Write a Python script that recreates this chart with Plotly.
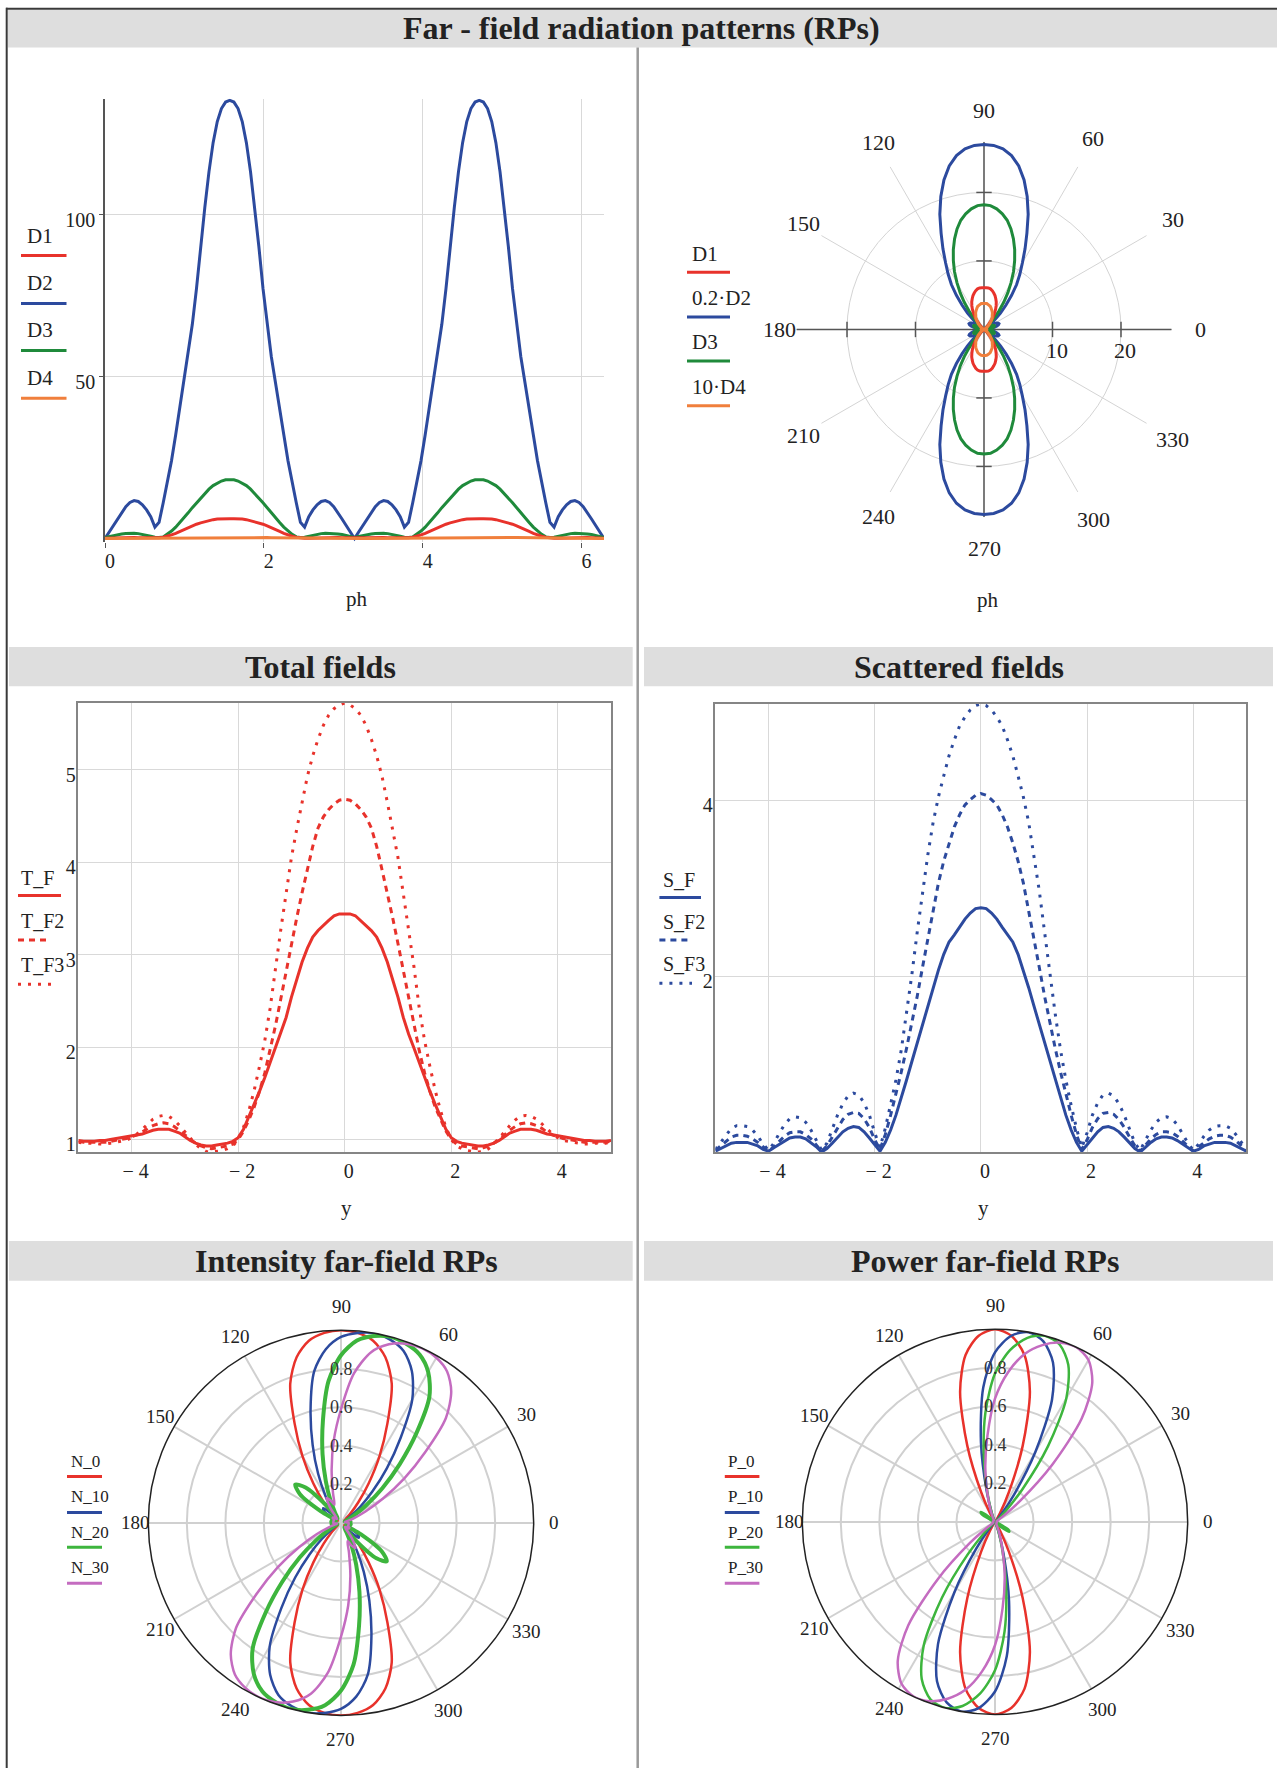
import numpy as np
import plotly.graph_objects as go

W, H = 1277, 1771
FONT = "Liberation Serif"


def fx(px):
    return px / W


def fy(py):
    return 1 - py / H


RED = "#e8322b"
BLUE = "#2c4a9e"
GREEN = "#1f8a3b"
ORANGE = "#f07f3c"
GREEN2 = "#3db53d"
MAGENTA = "#c46cc0"

# ---------------- data: far-field RPs vs ph (degrees, step 3) ----------------
ph_deg = list(range(0, 361, 3))

D1 = [0.1, 0.15, 0.2, 0.25, 0.3, 0.3, 0.3, 0.3, 0.25, 0.2, 0.15, 0.1, 0.1, 0.2, 0.4, 0.7, 1.1, 1.6, 2.2, 2.8, 3.4,
      3.9, 4.4, 4.8, 5.2, 5.5, 5.8, 6.0, 6.1, 6.1, 6.1, 6.1, 6.1, 6.0, 5.8, 5.5, 5.2, 4.8, 4.4, 3.9, 3.4, 2.8, 2.2,
      1.6, 1.1, 0.7, 0.4, 0.2, 0.1, 0.1, 0.15, 0.2, 0.25, 0.3, 0.3, 0.3, 0.3, 0.25, 0.2, 0.15, 0.1,
      0.15, 0.2, 0.25, 0.3, 0.3, 0.3, 0.3, 0.25, 0.2, 0.15, 0.1, 0.1, 0.2, 0.4, 0.7, 1.1, 1.6, 2.2, 2.8, 3.4,
      3.9, 4.4, 4.8, 5.2, 5.5, 5.8, 6.0, 6.1, 6.1, 6.1, 6.1, 6.1, 6.0, 5.8, 5.5, 5.2, 4.8, 4.4, 3.9, 3.4, 2.8, 2.2,
      1.6, 1.1, 0.7, 0.4, 0.2, 0.1, 0.1, 0.15, 0.2, 0.25, 0.3, 0.3, 0.3, 0.3, 0.25, 0.2, 0.15, 0.1]

D2 = [0, 2.0, 4.0, 6.0, 8.0, 9.8, 11.1, 11.7, 11.4, 10.4, 8.8, 6.7, 3.5, 5.0, 11.0, 17.0, 24.0, 32.0, 40.5, 48.0,
      56.0, 66.0, 77.0, 90.0, 102.0, 113.0, 122.0, 128.5, 132.5, 134.5, 135.0, 134.5, 132.5, 128.5, 122.0, 113.0,
      102.0, 90.0, 77.0, 66.0, 56.0, 48.0, 40.5, 32.0, 24.0, 17.0, 11.0, 5.0, 3.5, 6.7, 8.8, 10.4, 11.4, 11.7, 11.1,
      9.8, 8.0, 6.0, 4.0, 2.0, 0,
      2.0, 4.0, 6.0, 8.0, 9.8, 11.1, 11.7, 11.4, 10.4, 8.8, 6.7, 3.5, 5.0, 11.0, 17.0, 24.0, 32.0, 40.5, 48.0,
      56.0, 66.0, 77.0, 90.0, 102.0, 113.0, 122.0, 128.5, 132.5, 134.5, 135.0, 134.5, 132.5, 128.5, 122.0, 113.0,
      102.0, 90.0, 77.0, 66.0, 56.0, 48.0, 40.5, 32.0, 24.0, 17.0, 11.0, 5.0, 3.5, 6.7, 8.8, 10.4, 11.4, 11.7, 11.1,
      9.8, 8.0, 6.0, 4.0, 2.0, 0]

D3 = [0.3, 0.6, 0.9, 1.2, 1.4, 1.5, 1.6, 1.6, 1.5, 1.3, 1.0, 0.7, 0.4, 0.3, 0.5, 1.3, 2.3, 3.5, 4.9, 6.4, 7.9, 9.5,
      11.0, 12.5, 13.9, 15.2, 16.3, 17.1, 17.7, 18.1, 18.2, 18.1, 17.7, 17.1, 16.3, 15.2, 13.9, 12.5, 11.0, 9.5, 7.9,
      6.4, 4.9, 3.5, 2.3, 1.3, 0.5, 0.3, 0.4, 0.7, 1.0, 1.3, 1.5, 1.6, 1.6, 1.5, 1.4, 1.2, 0.9, 0.6, 0.3,
      0.6, 0.9, 1.2, 1.4, 1.5, 1.6, 1.6, 1.5, 1.3, 1.0, 0.7, 0.4, 0.3, 0.5, 1.3, 2.3, 3.5, 4.9, 6.4, 7.9, 9.5,
      11.0, 12.5, 13.9, 15.2, 16.3, 17.1, 17.7, 18.1, 18.2, 18.1, 17.7, 17.1, 16.3, 15.2, 13.9, 12.5, 11.0, 9.5, 7.9,
      6.4, 4.9, 3.5, 2.3, 1.3, 0.5, 0.3, 0.4, 0.7, 1.0, 1.3, 1.5, 1.6, 1.6, 1.5, 1.4, 1.2, 0.9, 0.6, 0.3]

D4 = [0.0, 0.01, 0.02, 0.03, 0.04, 0.04, 0.04, 0.04, 0.03, 0.02, 0.02, 0.03, 0.05, 0.07, 0.09, 0.12, 0.14, 0.17,
      0.20, 0.22, 0.24, 0.27, 0.29, 0.31, 0.33, 0.35, 0.36, 0.37, 0.38, 0.38, 0.38, 0.38, 0.38, 0.37, 0.36, 0.35,
      0.33, 0.31, 0.29, 0.27, 0.24, 0.22, 0.20, 0.17, 0.14, 0.12, 0.09, 0.07, 0.05, 0.03, 0.02, 0.02, 0.03, 0.04,
      0.04, 0.04, 0.04, 0.03, 0.02, 0.01, 0.0,
      0.01, 0.02, 0.03, 0.04, 0.04, 0.04, 0.04, 0.03, 0.02, 0.02, 0.03, 0.05, 0.07, 0.09, 0.12, 0.14, 0.17,
      0.20, 0.22, 0.24, 0.27, 0.29, 0.31, 0.33, 0.35, 0.36, 0.37, 0.38, 0.38, 0.38, 0.38, 0.38, 0.37, 0.36, 0.35,
      0.33, 0.31, 0.29, 0.27, 0.24, 0.22, 0.20, 0.17, 0.14, 0.12, 0.09, 0.07, 0.05, 0.03, 0.02, 0.02, 0.03, 0.04,
      0.04, 0.04, 0.04, 0.03, 0.02, 0.01, 0.0]

# polar scale factors shown in the legend
D2_scale = 0.2
D4_scale = 10

# ---------------- data: total / scattered fields vs y ----------------
y_vals = [round(-5 + 0.1 * i, 1) for i in range(101)]

T_F = [0.99, 0.98, 0.98, 0.98, 0.99, 0.99, 1.00, 1.01, 1.02, 1.03,
       1.04, 1.05, 1.06, 1.08, 1.10, 1.11, 1.11, 1.11, 1.09, 1.07,
       1.03, 0.99, 0.96, 0.94, 0.93, 0.93, 0.94, 0.95, 0.96, 0.98,
       1.02, 1.11, 1.24, 1.38, 1.52, 1.67, 1.83, 1.99, 2.14, 2.32,
       2.54, 2.74, 2.92, 3.07, 3.19, 3.26, 3.32, 3.37, 3.42, 3.44,
       3.44, 3.44, 3.42, 3.37, 3.32, 3.26, 3.19, 3.07, 2.92, 2.74,
       2.54, 2.32, 2.14, 1.99, 1.83, 1.67, 1.52, 1.38, 1.24, 1.11,
       1.02, 0.98, 0.96, 0.95, 0.94, 0.93, 0.93, 0.94, 0.96, 0.99,
       1.03, 1.07, 1.09, 1.11, 1.11, 1.11, 1.10, 1.08, 1.06, 1.05,
       1.04, 1.03, 1.02, 1.01, 1.00, 0.99, 0.99, 0.98, 0.98, 0.98, 0.99]

T_F2 = [0.98, 0.97, 0.97, 0.97, 0.97, 0.97, 0.98, 0.99, 1.00, 1.01,
        1.03, 1.05, 1.08, 1.12, 1.15, 1.17, 1.18, 1.17, 1.14, 1.10,
        1.05, 1.00, 0.96, 0.93, 0.91, 0.90, 0.91, 0.92, 0.93, 0.95,
        1.00, 1.09, 1.21, 1.35, 1.52, 1.72, 1.96, 2.23, 2.52, 2.82,
        3.12, 3.40, 3.67, 3.92, 4.17, 4.37, 4.49, 4.57, 4.63, 4.67,
        4.68, 4.67, 4.63, 4.57, 4.49, 4.37, 4.17, 3.92, 3.67, 3.40,
        3.12, 2.82, 2.52, 2.23, 1.96, 1.72, 1.52, 1.35, 1.21, 1.09,
        1.00, 0.95, 0.93, 0.92, 0.91, 0.90, 0.91, 0.93, 0.96, 1.00,
        1.05, 1.10, 1.14, 1.17, 1.18, 1.17, 1.15, 1.12, 1.08, 1.05,
        1.03, 1.01, 1.00, 0.99, 0.98, 0.97, 0.97, 0.97, 0.97, 0.97, 0.98]

T_F3 = [0.97, 0.96, 0.96, 0.96, 0.95, 0.95, 0.96, 0.97, 0.98, 0.99,
        1.02, 1.06, 1.11, 1.17, 1.22, 1.25, 1.26, 1.25, 1.21, 1.15,
        1.08, 1.01, 0.95, 0.90, 0.87, 0.865, 0.87, 0.88, 0.90, 0.93,
        1.00, 1.13, 1.31, 1.53, 1.79, 2.07, 2.42, 2.87, 3.27, 3.66,
        4.05, 4.36, 4.65, 4.93, 5.15, 5.33, 5.48, 5.59, 5.66, 5.70,
        5.72, 5.70, 5.66, 5.59, 5.48, 5.33, 5.15, 4.93, 4.65, 4.36,
        4.05, 3.66, 3.27, 2.87, 2.42, 2.07, 1.79, 1.53, 1.31, 1.13,
        1.00, 0.93, 0.90, 0.88, 0.87, 0.865, 0.87, 0.90, 0.95, 1.01,
        1.08, 1.15, 1.21, 1.25, 1.26, 1.25, 1.22, 1.17, 1.11, 1.06,
        1.02, 0.99, 0.98, 0.97, 0.96, 0.95, 0.95, 0.96, 0.96, 0.96, 0.97]

S_F = [0.01, 0.04, 0.07, 0.10, 0.11, 0.11, 0.11, 0.09, 0.07, 0.03,
       0.01, 0.05, 0.09, 0.13, 0.16, 0.17, 0.17, 0.15, 0.11, 0.06,
       0.00, 0.04, 0.10, 0.17, 0.23, 0.27, 0.29, 0.28, 0.23, 0.16,
       0.08, 0.01, 0.11, 0.25, 0.42, 0.61, 0.82, 1.03, 1.24, 1.45,
       1.66, 1.87, 2.07, 2.25, 2.39, 2.47, 2.56, 2.65, 2.72, 2.77,
       2.78, 2.77, 2.72, 2.65, 2.56, 2.47, 2.39, 2.25, 2.07, 1.87,
       1.66, 1.45, 1.24, 1.03, 0.82, 0.61, 0.42, 0.25, 0.11, 0.01,
       0.08, 0.16, 0.23, 0.28, 0.29, 0.27, 0.23, 0.17, 0.10, 0.04,
       0.00, 0.06, 0.11, 0.15, 0.17, 0.17, 0.16, 0.13, 0.09, 0.05,
       0.01, 0.03, 0.07, 0.09, 0.11, 0.11, 0.11, 0.10, 0.07, 0.04, 0.01]

S_F2 = [0.02, 0.07, 0.13, 0.17, 0.19, 0.19, 0.18, 0.15, 0.11, 0.06,
        0.01, 0.06, 0.12, 0.18, 0.22, 0.23, 0.23, 0.20, 0.15, 0.08,
        0.01, 0.07, 0.17, 0.28, 0.37, 0.43, 0.45, 0.44, 0.38, 0.28,
        0.14, 0.03, 0.20, 0.42, 0.66, 0.91, 1.18, 1.46, 1.77, 2.10,
        2.43, 2.75, 3.06, 3.31, 3.52, 3.70, 3.84, 3.95, 4.01, 4.06,
        4.08, 4.06, 4.01, 3.95, 3.84, 3.70, 3.52, 3.31, 3.06, 2.75,
        2.43, 2.10, 1.77, 1.46, 1.18, 0.91, 0.66, 0.42, 0.20, 0.03,
        0.14, 0.28, 0.38, 0.44, 0.45, 0.43, 0.37, 0.28, 0.17, 0.07,
        0.01, 0.08, 0.15, 0.20, 0.23, 0.23, 0.22, 0.18, 0.12, 0.06,
        0.01, 0.06, 0.11, 0.15, 0.18, 0.19, 0.19, 0.17, 0.13, 0.07, 0.02]

S_F3 = [0.03, 0.11, 0.20, 0.27, 0.30, 0.30, 0.29, 0.25, 0.18, 0.09,
        0.02, 0.10, 0.21, 0.31, 0.38, 0.40, 0.39, 0.34, 0.25, 0.13,
        0.02, 0.10, 0.26, 0.42, 0.55, 0.64, 0.67, 0.65, 0.56, 0.42,
        0.22, 0.05, 0.27, 0.53, 0.82, 1.16, 1.57, 2.02, 2.50, 2.97,
        3.38, 3.75, 4.04, 4.28, 4.51, 4.69, 4.85, 4.95, 5.03, 5.08,
        5.10, 5.08, 5.03, 4.95, 4.85, 4.69, 4.51, 4.28, 4.04, 3.75,
        3.38, 2.97, 2.50, 2.02, 1.57, 1.16, 0.82, 0.53, 0.27, 0.05,
        0.22, 0.42, 0.56, 0.65, 0.67, 0.64, 0.55, 0.42, 0.26, 0.10,
        0.02, 0.13, 0.25, 0.34, 0.39, 0.40, 0.38, 0.31, 0.21, 0.10,
        0.02, 0.09, 0.18, 0.25, 0.29, 0.30, 0.30, 0.27, 0.20, 0.11, 0.03]

# ---------------- data: intensity / power far-field RPs (theta step 5 deg) ----------------
theta = list(range(0, 361, 5))

N_0 = [0.04, 0.04, 0.05, 0.05, 0.05, 0.04, 0.03, 0.02, 0.03, 0.07, 0.14, 0.25, 0.40, 0.57, 0.77, 0.89, 0.96, 0.99,
       1.00, 0.99, 0.96, 0.89, 0.77, 0.57, 0.40, 0.25, 0.14, 0.07, 0.03, 0.02, 0.03, 0.04, 0.05, 0.05, 0.05, 0.04, 0.04,
       0.04, 0.05, 0.05, 0.05, 0.04, 0.03, 0.02, 0.03, 0.07, 0.14, 0.25, 0.40, 0.57, 0.77, 0.89, 0.96, 0.99,
       1.00, 0.99, 0.96, 0.89, 0.77, 0.57, 0.40, 0.25, 0.14, 0.07, 0.03, 0.02, 0.03, 0.04, 0.05, 0.05, 0.05, 0.04, 0.04]

N_10 = [0.04, 0.05, 0.05, 0.04, 0.03, 0.02, 0.03, 0.06, 0.13, 0.23, 0.37, 0.54, 0.74, 0.87, 0.95, 0.985, 1.00, 0.99,
        0.965, 0.905, 0.80, 0.61, 0.43, 0.28, 0.16, 0.08, 0.04, 0.06, 0.12, 0.11, 0.06, 0.04, 0.05, 0.05, 0.04, 0.04,
        0.04,
        0.05, 0.05, 0.04, 0.03, 0.02, 0.03, 0.06, 0.13, 0.23, 0.37, 0.54, 0.74, 0.87, 0.95, 0.985, 1.00, 0.99,
        0.965, 0.905, 0.80, 0.61, 0.43, 0.28, 0.16, 0.08, 0.04, 0.06, 0.12, 0.11, 0.06, 0.04, 0.05, 0.05, 0.04, 0.04,
        0.04]

N_20 = [0.04, 0.05, 0.04, 0.03, 0.02, 0.04, 0.08, 0.16, 0.28, 0.43, 0.61, 0.80, 0.905, 0.965, 0.99, 1.00, 0.985, 0.95,
        0.87, 0.74, 0.54, 0.37, 0.23, 0.13, 0.06, 0.03, 0.12, 0.26, 0.31, 0.26, 0.12, 0.03, 0.03, 0.04, 0.05, 0.05,
        0.04,
        0.05, 0.04, 0.03, 0.02, 0.04, 0.08, 0.16, 0.28, 0.43, 0.61, 0.80, 0.905, 0.965, 0.99, 1.00, 0.985, 0.95,
        0.87, 0.74, 0.54, 0.37, 0.23, 0.13, 0.06, 0.03, 0.12, 0.26, 0.31, 0.26, 0.12, 0.03, 0.03, 0.04, 0.05, 0.05,
        0.04]

N_30 = [0.04, 0.03, 0.02, 0.03, 0.07, 0.14, 0.25, 0.40, 0.57, 0.77, 0.89, 0.96, 0.99, 1.00, 0.99, 0.96, 0.90, 0.78,
        0.59, 0.43, 0.28, 0.16, 0.10, 0.13, 0.15, 0.10, 0.04, 0.03, 0.04, 0.05, 0.05, 0.04, 0.04, 0.04, 0.04, 0.04,
        0.04,
        0.03, 0.02, 0.03, 0.07, 0.14, 0.25, 0.40, 0.57, 0.77, 0.89, 0.96, 0.99, 1.00, 0.99, 0.96, 0.90, 0.78,
        0.59, 0.43, 0.28, 0.16, 0.10, 0.13, 0.15, 0.10, 0.04, 0.03, 0.04, 0.05, 0.05, 0.04, 0.04, 0.04, 0.04, 0.04,
        0.04]

P_0 = [0.01, 0.01, 0.01, 0.01, 0.01, 0.01, 0.01, 0.01, 0.01, 0.01, 0.01, 0.015, 0.05, 0.17, 0.42, 0.70, 0.88, 0.97,
       1.00, 0.97, 0.88, 0.70, 0.42, 0.17, 0.05, 0.015, 0.01, 0.01, 0.01, 0.01, 0.01, 0.01, 0.01, 0.01, 0.01, 0.01,
       0.01,
       0.01, 0.01, 0.01, 0.01, 0.01, 0.01, 0.01, 0.01, 0.01, 0.01, 0.015, 0.05, 0.17, 0.42, 0.70, 0.88, 0.97,
       1.00, 0.97, 0.88, 0.70, 0.42, 0.17, 0.05, 0.015, 0.01, 0.01, 0.01, 0.01, 0.01, 0.01, 0.01, 0.01, 0.01, 0.01,
       0.01]

P_10 = [0.01, 0.01, 0.01, 0.01, 0.01, 0.01, 0.01, 0.01, 0.01, 0.015, 0.05, 0.17, 0.42, 0.70, 0.88, 0.97, 1.00, 0.97,
        0.88, 0.70, 0.42, 0.17, 0.05, 0.015, 0.01, 0.01, 0.01, 0.01, 0.01, 0.01, 0.01, 0.01, 0.01, 0.01, 0.01, 0.01,
        0.01,
        0.01, 0.01, 0.01, 0.01, 0.01, 0.01, 0.01, 0.01, 0.015, 0.05, 0.17, 0.42, 0.70, 0.88, 0.97, 1.00, 0.97,
        0.88, 0.70, 0.42, 0.17, 0.05, 0.015, 0.01, 0.01, 0.01, 0.01, 0.01, 0.01, 0.01, 0.01, 0.01, 0.01, 0.01, 0.01,
        0.01]

P_20 = [0.01, 0.01, 0.01, 0.01, 0.01, 0.01, 0.01, 0.01, 0.02, 0.07, 0.22, 0.48, 0.74, 0.90, 0.98, 1.00, 0.97, 0.895,
        0.77, 0.57, 0.33, 0.14, 0.05, 0.015, 0.01, 0.01, 0.01, 0.01, 0.04, 0.09, 0.08, 0.03, 0.01, 0.01, 0.01, 0.01,
        0.01,
        0.01, 0.01, 0.01, 0.01, 0.01, 0.01, 0.01, 0.02, 0.07, 0.22, 0.48, 0.74, 0.90, 0.98, 1.00, 0.97, 0.895,
        0.77, 0.57, 0.33, 0.14, 0.05, 0.015, 0.01, 0.01, 0.01, 0.01, 0.04, 0.09, 0.08, 0.03, 0.01, 0.01, 0.01, 0.01,
        0.01]

P_30 = [0.01, 0.01, 0.01, 0.01, 0.01, 0.01, 0.015, 0.05, 0.17, 0.42, 0.70, 0.88, 0.97, 1.00, 0.99, 0.95, 0.885, 0.78,
        0.64, 0.45, 0.29, 0.15, 0.07, 0.03, 0.015, 0.01, 0.01, 0.01, 0.01, 0.01, 0.01, 0.01, 0.01, 0.01, 0.01, 0.01,
        0.01,
        0.01, 0.01, 0.01, 0.01, 0.01, 0.015, 0.05, 0.17, 0.42, 0.70, 0.88, 0.97, 1.00, 0.99, 0.95, 0.885, 0.78,
        0.64, 0.45, 0.29, 0.15, 0.07, 0.03, 0.015, 0.01, 0.01, 0.01, 0.01, 0.01, 0.01, 0.01, 0.01, 0.01, 0.01, 0.01,
        0.01]

angle_ticks = list(range(0, 360, 30))
angle_text = [str(a) for a in angle_ticks]
rp_ticks = [0.2, 0.4, 0.6, 0.8]
rp_text = ["0.2", "0.4", "0.6", "0.8"]
tr_rticks = [10, 20]
tr_rtext = ["10", "20"]

# ---------------- figure ----------------
fig = go.Figure()
ph_rad = np.deg2rad(ph_deg)

# top-left cartesian
for nm, dat, col in [("D2", D2, BLUE), ("D3", D3, GREEN), ("D1", D1, RED), ("D4", D4, ORANGE)]:
    fig.add_trace(go.Scatter(x=ph_rad, y=dat, mode="lines", name=nm, line=dict(color=col, width=3),
                             xaxis="x", yaxis="y", hoverinfo="skip", showlegend=False))

# top-right polar
R_TR = 27.4
fig.add_trace(go.Scatterpolar(r=[R_TR, 0, R_TR], theta=[0, 0, 180], mode="lines", subplot="polar",
                              line=dict(color="#555", width=1.5), hoverinfo="skip", showlegend=False))
fig.add_trace(go.Scatterpolar(r=[R_TR, 0, R_TR], theta=[90, 90, 270], mode="lines", subplot="polar",
                              line=dict(color="#555", width=1.5), hoverinfo="skip", showlegend=False))
fig.add_trace(go.Scatterpolar(r=tr_rticks * 2, theta=[0, 0, 180, 180], mode="markers", subplot="polar",
                              marker=dict(symbol="line-ns", size=11, line=dict(width=1.5, color="#555")),
                              hoverinfo="skip", showlegend=False))
fig.add_trace(go.Scatterpolar(r=tr_rticks * 2, theta=[90, 90, 270, 270], mode="markers", subplot="polar",
                              marker=dict(symbol="line-ew", size=11, line=dict(width=1.5, color="#555")),
                              hoverinfo="skip", showlegend=False))
for nm, dat, col in [("0.2·D2", np.array(D2) * D2_scale, BLUE), ("D3", D3, GREEN), ("D1", D1, RED),
                     ("10·D4", np.array(D4) * D4_scale, ORANGE)]:
    fig.add_trace(go.Scatterpolar(r=dat, theta=ph_deg, mode="lines", name=nm, subplot="polar",
                                  line=dict(color=col, width=3), hoverinfo="skip", showlegend=False))

DOT = "3px,7px"
DASH = "6px,5px"

# total fields
fig.add_trace(go.Scatter(x=y_vals, y=T_F3, mode="lines", line=dict(color=RED, width=3, dash=DOT),
                         xaxis="x2", yaxis="y2", hoverinfo="skip", showlegend=False))
fig.add_trace(go.Scatter(x=y_vals, y=T_F2, mode="lines", line=dict(color=RED, width=3, dash=DASH),
                         xaxis="x2", yaxis="y2", hoverinfo="skip", showlegend=False))
fig.add_trace(go.Scatter(x=y_vals, y=T_F, mode="lines", line=dict(color=RED, width=3),
                         xaxis="x2", yaxis="y2", hoverinfo="skip", showlegend=False))

# scattered fields
fig.add_trace(go.Scatter(x=y_vals, y=S_F3, mode="lines", line=dict(color=BLUE, width=3, dash=DOT),
                         xaxis="x3", yaxis="y3", hoverinfo="skip", showlegend=False))
fig.add_trace(go.Scatter(x=y_vals, y=S_F2, mode="lines", line=dict(color=BLUE, width=3, dash=DASH),
                         xaxis="x3", yaxis="y3", hoverinfo="skip", showlegend=False))
fig.add_trace(go.Scatter(x=y_vals, y=S_F, mode="lines", line=dict(color=BLUE, width=3),
                         xaxis="x3", yaxis="y3", hoverinfo="skip", showlegend=False))

# intensity RPs
for nm, dat, col, w in [("N_0", N_0, RED, 2.5), ("N_10", N_10, BLUE, 2.5), ("N_20", N_20, GREEN2, 4),
                        ("N_30", N_30, MAGENTA, 2.5)]:
    fig.add_trace(go.Scatterpolar(r=dat, theta=theta, mode="lines", name=nm, subplot="polar2",
                                  line=dict(color=col, width=w, shape="spline", smoothing=0.8),
                                  hoverinfo="skip", showlegend=False))

# power RPs
for nm, dat, col, w in [("P_0", P_0, RED, 2.5), ("P_10", P_10, BLUE, 2.5), ("P_20", P_20, GREEN2, 2.5),
                        ("P_30", P_30, MAGENTA, 2.5)]:
    fig.add_trace(go.Scatterpolar(r=dat, theta=theta, mode="lines", name=nm, subplot="polar3",
                                  line=dict(color=col, width=w, shape="spline", smoothing=0.8),
                                  hoverinfo="skip", showlegend=False))

GRID = "#d9d9d9"
TICKF = dict(family=FONT, size=20, color="#222")
TICKF2 = dict(family=FONT, size=20, color="#222")

xaxis = dict(domain=[fx(105), fx(604)], anchor="y", range=[0, 2 * np.pi], tickvals=[0, 2, 4, 6],
             showgrid=True, gridcolor=GRID, gridwidth=1, zeroline=False, showline=False,
             ticks="outside", ticklen=5, tickcolor="#555", tickfont=TICKF, ticklabelshift=5,
             ticklabelstandoff=-4)
yaxis = dict(domain=[fy(543.3), fy(99)], anchor="x", range=[-1.2, 135.5], tickvals=[50, 100],
             showgrid=True, gridcolor=GRID, gridwidth=1, zeroline=True, zerolinecolor="#555", zerolinewidth=1.5,
             showline=True, linecolor="#555", linewidth=1.5, ticks="outside", ticklen=4, tickcolor="#555",
             tickfont=TICKF, ticklabelshift=6)

xticks_mid = [-4, -2, 0, 2, 4]
xtext_mid = ["\u2212 4", "\u2212 2", "0", "2", "4"]
box = dict(showline=True, mirror=True, linecolor="#858585", linewidth=1.5, showgrid=True, gridcolor=GRID,
           gridwidth=1, zeroline=False, ticks="", tickfont=TICKF2)
xaxis2 = dict(domain=[fx(78.4), fx(611)], anchor="y2", range=[-5, 5], tickvals=xticks_mid, ticktext=xtext_mid,
              ticklabelshift=4, **box)
yaxis2 = dict(domain=[fy(1154), fy(704.3)], anchor="x2", range=[0.864, 5.72], tickvals=[1, 2, 3, 4, 5],
              ticklabelshift=5, ticklabelstandoff=-3, **box)
xaxis3 = dict(domain=[fx(715.4), fx(1246.4)], anchor="y3", range=[-5, 5], tickvals=xticks_mid, ticktext=xtext_mid,
              ticklabelshift=4, **box)
yaxis3 = dict(domain=[fy(1154), fy(705)], anchor="x3", range=[0, 5.1], tickvals=[2, 4],
              ticklabelshift=5, ticklabelstandoff=-3, **box)

# geometry of the polar plots (px): centre and radius
TR_C, TR_R = (984, 330), 188
LP_R = 193
LP_CENTERS = [(341, 1525.5), (995, 1524.5)]

polar = dict(
    domain=dict(x=[fx(TR_C[0] - TR_R), fx(TR_C[0] + TR_R)], y=[fy(TR_C[1] + TR_R), fy(TR_C[1] - TR_R)]),
    bgcolor="white",
    radialaxis=dict(range=[0, R_TR], tickvals=tr_rticks, showticklabels=False, showline=False, showgrid=True,
                    gridcolor="#d4d4d4", gridwidth=1, ticks="", angle=0),
    angularaxis=dict(tickvals=angle_ticks, showticklabels=False, showline=False, showgrid=True,
                     gridcolor="#d4d4d4", gridwidth=1, ticks="", rotation=0, direction="counterclockwise"),
)


def low_polar(cx, cy):
    return dict(
        domain=dict(x=[fx(cx - LP_R), fx(cx + LP_R)], y=[fy(cy + LP_R), fy(cy - LP_R)]),
        bgcolor="white",
        radialaxis=dict(range=[0, 1], tickvals=rp_ticks, showticklabels=False,
                        showline=False, showgrid=True, gridcolor="#d0d0d0", gridwidth=1.5, ticks="", angle=90),
        angularaxis=dict(tickvals=angle_ticks, showticklabels=False, showline=True, linecolor="#222",
                         linewidth=1.5, showgrid=True, gridcolor="#d0d0d0", gridwidth=1.5, ticks="",
                         rotation=0, direction="counterclockwise"),
    )


polar2 = low_polar(*LP_CENTERS[0])
polar3 = low_polar(*LP_CENTERS[1])

shapes = []


def rect(x0, y0, x1, y1, color="#dedede"):
    shapes.append(dict(type="rect", xref="paper", yref="paper", x0=fx(x0), x1=fx(x1), y0=fy(y1), y1=fy(y0),
                       fillcolor=color, line=dict(width=0), layer="below"))


def hline(x0, x1, y, color, width=3, dash="solid"):
    shapes.append(dict(type="line", xref="paper", yref="paper", x0=fx(x0), x1=fx(x1), y0=fy(y), y1=fy(y),
                       line=dict(color=color, width=width, dash=dash)))


def vline(x, y0, y1, color, width=2):
    shapes.append(dict(type="line", xref="paper", yref="paper", x0=fx(x), x1=fx(x), y0=fy(y0), y1=fy(y1),
                       line=dict(color=color, width=width)))


# title bars
rect(8, 9.7, 1277, 47.7)
rect(9, 648, 632.7, 687.3)
rect(644, 648, 1273, 687.3)
rect(9, 1243, 632.7, 1283)
rect(644, 1243, 1273, 1283)
# frame
vline(6.7, 7.7, 1771, "#3a3a3a", 2)
hline(6, 1277, 8.7, "#3a3a3a", 2)
vline(637.7, 47.7, 1771, "#9a9a9a", 2.5)

annotations = []


def ann(text, x, y, size, xanchor="center", yanchor="middle", color="#222"):
    annotations.append(dict(text=text, x=fx(x), y=fy(y), xref="paper", yref="paper", showarrow=False,
                            xanchor=xanchor, yanchor=yanchor, font=dict(family=FONT, size=size, color=color)))


# titles
ann("<b>Far - field radiation patterns (RPs)</b>", 641, 28.5, 32)
ann("<b>Total fields</b>", 320, 668, 32)
ann("<b>Scattered fields</b>", 959, 668, 32)
ann("<b>Intensity far-field RPs</b>", 346, 1263, 32)
ann("<b>Power far-field RPs</b>", 985, 1263, 32)
# axis titles
ann("ph", 357, 600, 21)
ann("ph", 988, 601, 21)
ann("y", 346, 1210, 21)
ann("y", 983, 1210, 21)


# angular tick labels (Mathcad places them slightly closer on the left side)
def angle_labels(cx, cy, base, kc, ks, size):
    for a, txt in zip(angle_ticks, angle_text):
        t = np.deg2rad(a)
        d = base + kc * np.cos(t) + ks * abs(np.sin(t))
        ann(txt, cx + d * np.cos(t) + 3 * max(0.0, -np.cos(t)), cy - d * np.sin(t) - 2 * np.sin(t), size)


angle_labels(TR_C[0], TR_C[1], 212, 4, 5, 22)
for cx, cy in LP_CENTERS:
    angle_labels(cx, cy, 211, 2, 4, 19)

# radial tick labels
for rv, rt in zip(tr_rticks, tr_rtext):
    ann(rt, TR_C[0] + rv / R_TR * TR_R + 4, TR_C[1] + 21, 22)
for cx, cy in LP_CENTERS:
    for rv, rt in zip(rp_ticks, rp_text):
        ann(rt, cx, cy - rv * LP_R, 18, color="#333")

# legends
for txt, col, ty, ly in [("D1", RED, 236, 256), ("D2", BLUE, 283, 304), ("D3", GREEN, 330.6, 351),
                         ("D4", ORANGE, 379, 399)]:
    ann(txt, 25, ty, 21, xanchor="left")
    hline(21, 66.5, ly, col, 3)
for txt, col, ty, ly in [("D1", RED, 254, 272.6), ("0.2·D2", BLUE, 299, 317.6), ("D3", GREEN, 343, 361.6),
                         ("10·D4", ORANGE, 388, 406.5)]:
    ann(txt, 690, ty, 21, xanchor="left")
    hline(687, 730, ly, col, 3)
for txt, ty, ly, x1, dash in [("T_F", 879, 897, 61, "solid"), ("T_F2", 923, 941.6, 51, DASH),
                              ("T_F3", 967, 986, 51, DOT)]:
    ann(txt, 19, ty, 20, xanchor="left")
    hline(18, x1, ly, RED, 3, dash)
for txt, ty, ly, x1, dash in [("S_F", 881, 899, 701, "solid"), ("S_F2", 924, 941.6, 692, DASH),
                              ("S_F3", 966, 985, 692, DOT)]:
    ann(txt, 660.5, ty, 20, xanchor="left")
    hline(659.4, x1, ly, BLUE, 3, dash)
for (txt, col), ty, ly in zip([("N_0", RED), ("N_10", BLUE), ("N_20", GREEN2), ("N_30", MAGENTA)],
                              [1463.5, 1499.4, 1534.6, 1570], [1479, 1515, 1549.8, 1586]):
    ann(txt, 68.5, ty, 17, xanchor="left")
    hline(67, 102, ly, col, 3)
for (txt, col), ty, ly in zip([("P_0", RED), ("P_10", BLUE), ("P_20", GREEN2), ("P_30", MAGENTA)],
                              [1463.5, 1499.4, 1534.6, 1570], [1479, 1515, 1549.8, 1586]):
    ann(txt, 726, ty, 17, xanchor="left")
    hline(724.8, 759.4, ly, col, 3)

fig.update_layout(
    width=W, height=H, autosize=False, margin=dict(l=0, r=0, t=0, b=0),
    paper_bgcolor="white", plot_bgcolor="white", showlegend=False,
    font=dict(family=FONT, color="#222"),
    xaxis=xaxis, yaxis=yaxis, xaxis2=xaxis2, yaxis2=yaxis2, xaxis3=xaxis3, yaxis3=yaxis3,
    polar=polar, polar2=polar2, polar3=polar3,
    shapes=shapes, annotations=annotations,
)

fig.write_html("out.html", config={"displayModeBar": False})
